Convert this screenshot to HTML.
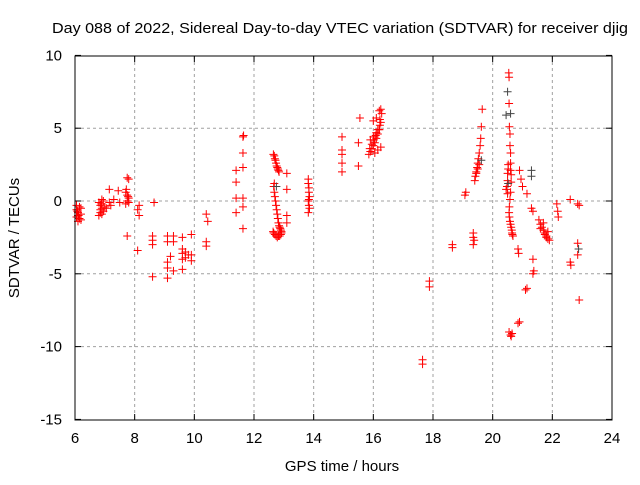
<!DOCTYPE html>
<html><head><meta charset="utf-8"><style>
body{margin:0;background:#fff}
svg text{font-family:"Liberation Sans",sans-serif;font-size:15px;fill:#000}
</style></head><body>
<svg id="chart" width="640" height="480" xmlns="http://www.w3.org/2000/svg">
<text x="52" y="33" textLength="576" lengthAdjust="spacingAndGlyphs">Day 088 of 2022, Sidereal Day-to-day VTEC variation (SDTVAR) for receiver djig</text>
<text x="342" y="471" text-anchor="middle">GPS time / hours</text>
<text transform="translate(19,238) rotate(-90)" text-anchor="middle">SDTVAR / TECUs</text>
<g id="grid"></g>
<g id="ticks"></g>
<g id="marks"></g>
<rect x="75" y="56" width="537" height="364" fill="none" stroke="#000" stroke-width="1"/>
</svg>
<script>
const xTicks=[6,8,10,12,14,16,18,20,22,24];
const yTicks=[10,5,0,-5,-10,-15];
const redX=[6.05,6.05,6.1,6.1,6.15,6.1,6.2,6.2,6.05,6.15,6.2,6.08,6.12,
6.8,6.85,6.85,6.9,6.8,6.95,6.9,7.0,6.95,6.85,6.9,6.88,
7.05,7.15,7.2,7.3,7.15,7.45,7.5,
7.75,7.8,7.7,7.75,7.8,7.75,7.8,7.7,7.75,7.72,7.78,
8.15,8.1,8.15,8.1,8.65,8.6,8.6,8.6,8.6,
9.1,9.1,9.1,9.1,9.1,9.3,9.3,9.3,9.2,
9.6,9.6,9.6,9.6,9.6,9.7,9.7,9.9,9.9,9.9,9.8,
10.4,10.45,10.4,10.4,
11.63,11.63,11.63,11.63,11.63,11.63,11.4,11.4,11.4,11.4,11.65,
12.65,12.68,12.7,12.72,12.74,12.76,12.78,12.8,12.82,12.84,
12.68,12.66,12.68,12.7,12.72,12.74,12.76,12.78,12.8,12.82,12.84,12.86,12.88,12.9,12.92,12.92,12.9,12.86,12.82,12.78,12.74,12.7,12.66,12.64,
13.1,13.1,13.1,13.1,
13.82,13.82,13.84,13.84,13.86,13.82,13.84,13.86,13.82,13.84,
14.95,14.95,14.95,14.95,14.95,15.5,15.5,15.55,
15.85,15.9,15.95,16.0,16.05,16.1,16.15,16.2,16.25,16.28,15.88,15.95,16.02,16.08,16.15,16.22,16.0,16.1,16.2,16.05,16.15,16.25,15.9,16.0,16.1,16.2,16.22,16.25,
17.65,17.65,17.88,17.88,18.65,18.65,
19.07,19.1,19.35,19.35,19.38,19.35,
19.4,19.42,19.45,19.48,19.5,19.52,19.55,19.58,19.6,19.62,19.65,19.45,19.5,19.55,
20.48,20.5,20.5,20.52,20.52,20.54,20.55,20.55,20.56,20.58,20.58,20.6,20.6,20.6,20.62,20.62,20.6,20.58,20.56,20.55,20.56,20.58,20.6,20.62,20.64,20.65,20.66,20.68,20.45,20.5,
20.9,20.95,21.0,21.15,21.3,21.35,21.55,21.6,21.65,21.7,21.75,21.8,21.85,21.9,21.7,21.8,21.6,21.75,21.85,
22.15,22.18,22.2,22.6,22.85,22.9,
20.85,20.87,21.35,21.35,21.38,21.1,21.15,20.85,20.9,20.6,20.55,20.65,20.62,
22.6,22.62,22.85,22.85,22.9];
const redY=[-0.3,-0.6,-0.8,-1.0,-1.2,-1.4,-0.5,-0.9,-1.1,-0.4,-1.3,-0.7,-1.0,
-0.1,-0.3,-0.6,-0.9,-1.0,0.0,0.1,-0.4,-0.7,-0.8,-0.5,-0.2,
-0.5,0.8,-0.3,0.1,-0.1,0.7,-0.1,
1.6,1.5,0.6,0.4,0.2,0.0,-0.1,-0.2,-2.4,0.8,0.3,
-0.3,-0.6,-1.0,-3.4,-0.1,-2.4,-2.7,-3.0,-5.2,
-2.4,-2.8,-4.2,-4.6,-5.3,-2.4,-2.8,-4.8,-3.8,
-2.5,-3.3,-3.6,-4.0,-4.7,-3.5,-3.9,-2.3,-3.7,-4.1,-3.7,
-0.9,-1.4,-2.8,-3.1,
4.4,3.3,2.3,0.2,-0.4,-1.9,2.1,1.3,-0.8,0.2,4.5,
3.2,3.1,2.9,2.8,2.6,2.4,2.3,2.2,2.1,2.0,
1.2,1.0,0.6,0.3,0.0,-0.3,-0.6,-0.9,-1.2,-1.5,-1.7,-1.8,-1.9,-2.0,-2.1,-2.2,-2.3,-2.4,-2.4,-2.5,-2.4,-2.3,-2.2,-2.1,
1.9,0.8,-1.0,-1.5,
1.5,1.2,0.9,0.6,0.3,0.0,-0.3,-0.5,-0.8,0.1,
4.4,3.5,3.2,2.6,2.0,4.0,2.4,5.7,
3.2,3.4,3.6,3.8,4.0,4.3,4.6,4.9,5.4,6.0,3.6,3.9,4.2,4.5,4.9,5.6,5.5,5.7,6.2,3.3,3.5,3.7,4.2,4.4,4.7,4.9,5.2,6.3,
-10.9,-11.2,-5.5,-5.9,-3.0,-3.2,
0.4,0.6,-2.2,-2.5,-2.7,-3.0,
1.4,1.7,2.0,2.3,2.6,2.9,3.3,3.8,4.3,5.1,6.3,1.9,2.2,2.5,
1.0,1.4,1.9,2.2,2.5,8.8,8.5,6.7,5.1,4.6,3.8,3.3,2.6,2.1,1.8,1.3,0.6,0.1,-0.4,-0.8,-1.1,-1.4,-1.6,-1.8,-2.0,-2.2,-2.3,-2.4,0.8,0.5,
2.1,1.5,1.0,0.5,-0.5,-0.7,-1.3,-1.6,-1.8,-2.0,-2.2,-2.4,-2.6,-2.7,-1.5,-2.5,-1.9,-2.3,-2.1,
-0.2,-0.7,-1.1,0.1,-0.2,-0.3,
-3.3,-3.6,-4.0,-5.0,-4.8,-6.1,-6.0,-8.4,-8.3,-9.2,-9.0,-9.1,-9.3,
-4.2,-4.4,-2.9,-3.7,-6.8];
const darkX=[20.5,20.45,20.52,21.3,21.3,22.88,20.6,12.75,19.62];
const darkY=[7.5,5.9,1.2,2.1,1.7,-3.3,6.0,1.0,2.8];
const X=h=>75+(h-6)*537/18;
const Y=v=>201-v*364/25;
const ns="http://www.w3.org/2000/svg";
const grid=document.getElementById('grid'),ticks=document.getElementById('ticks'),marks=document.getElementById('marks');
function mk(tag,attrs,parent){const e=document.createElementNS(ns,tag);for(const k in attrs)e.setAttribute(k,attrs[k]);parent.appendChild(e);return e;}
xTicks.forEach(t=>{const x=X(t);
 if(t>6&&t<24){const g=mk('line',{x1:x,x2:x,y1:56,y2:420,stroke:'#a0a0a0','stroke-dasharray':'3,3'},grid);
 
 }
 mk('line',{x1:x,x2:x,y1:420,y2:414,stroke:'#000'},ticks);
 mk('line',{x1:x,x2:x,y1:56,y2:62,stroke:'#000'},ticks);
 const tx=mk('text',{x:x,y:443,'text-anchor':'middle'},ticks);tx.textContent=t;
 
 
});
yTicks.forEach(t=>{const y=Y(t);
 if(t<10&&t>-15){const g=mk('line',{x1:75,x2:612,y1:y,y2:y,stroke:'#a0a0a0','stroke-dasharray':'3,3'},grid);
 
 }
 mk('line',{x1:75,x2:81,y1:y,y2:y,stroke:'#000'},ticks);
 mk('line',{x1:612,x2:606,y1:y,y2:y,stroke:'#000'},ticks);
 const tx=mk('text',{x:62,y:y+5,'text-anchor':'end'},ticks);tx.textContent=t;
 
 
});
function plus(h,v,c){const x=X(h),y=Y(v);
 const p=mk('path',{d:`M${x-4},${y}H${x+4}M${x},${y-4}V${y+4}`,stroke:c,'stroke-width':1},marks);
 
 }
redX.forEach((h,i)=>plus(h,redY[i],'#ff0000'));
darkX.forEach((h,i)=>plus(h,darkY[i],'#444'));
</script>
</body></html>
